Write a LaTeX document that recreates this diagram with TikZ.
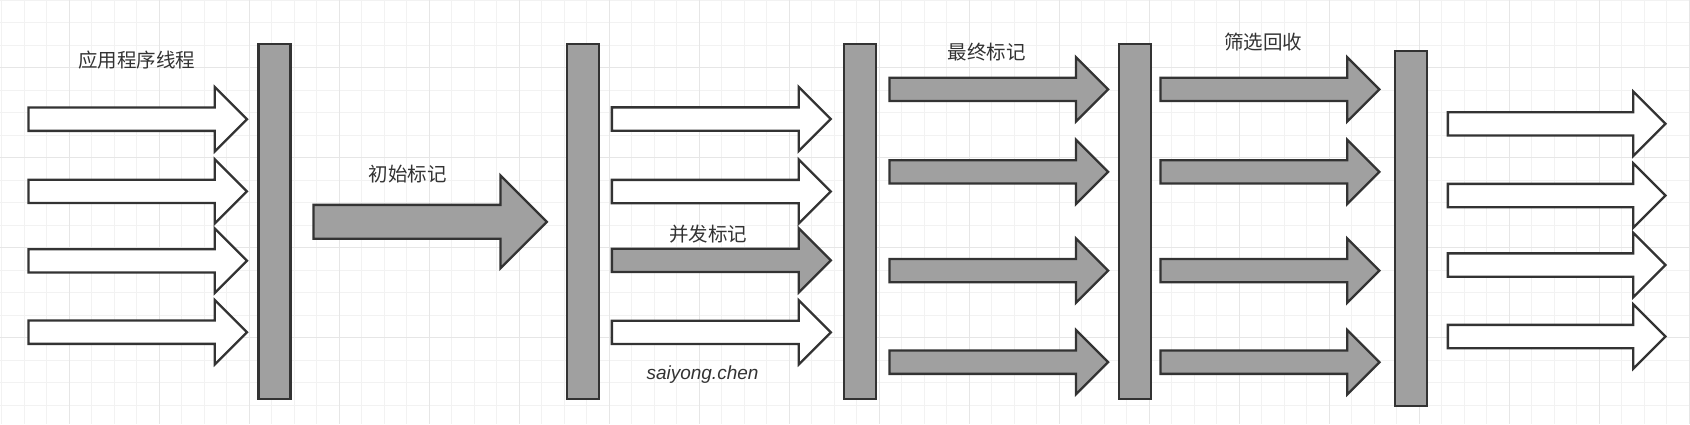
\documentclass[tikz,border=0pt]{standalone}
\usepackage{fontspec}
\setsansfont{Liberation Sans}
\newfontfamily\cjk{Noto Sans CJK SC}
\usepackage{tikz}
\usetikzlibrary{shapes.arrows}
\usetikzlibrary{positioning}
\tikzset{>=latex}

\definecolor{gridminor}{HTML}{F2F2F2}
\definecolor{gridmajor}{HTML}{E6E6E6}
\definecolor{barfill}{HTML}{A0A0A0}
\definecolor{edge}{HTML}{333333}

\tikzset{
  pausebar/.style={rectangle, draw=edge, fill=barfill, line width=2.3pt,
    minimum width=32pt, minimum height=355pt, inner sep=0pt},
  thread/.style={single arrow, draw=edge, fill=white, line width=2.3pt,
    anchor=tail, inner xsep=0pt, inner ysep=10.5pt,
    single arrow head extend=20.5pt, minimum height=218.5pt},
  gcthread/.style={thread, fill=barfill},
  phase/.style={font=\cjk\fontsize{19.5}{22}\selectfont, text=edge, inner sep=0pt}
}

\begin{document}
\begin{tikzpicture}[x=1pt, y=-1pt]
  % --- Definitions ---
  \def\W{1690} % picture width
  \def\H{424}  % picture height

  % --- 1. Paper and grid ---
  \useasboundingbox (0,0) rectangle (\W,\H);
  \fill[white] (0,0) rectangle (\W,\H);
  \foreach \x in {1.5,24,...,\W} \draw[gridminor, line width=1pt] (\x,0) -- (\x,\H);
  \foreach \y in {0.2,22.7,...,\H} \draw[gridminor, line width=1pt] (0,\y) -- (\W,\y);
  \foreach \x in {69,159,...,\W} \draw[gridmajor, line width=1pt] (\x,0) -- (\x,\H);
  \foreach \y in {67.7,157.7,...,\H} \draw[gridmajor, line width=1pt] (0,\y) -- (\W,\y);

  % --- 2. Stop-the-world bars ---
  \node[pausebar] (p1) at (274.5,221.5) {};
  \node[pausebar] (p2) at (583.2,221.6) {};
  \node[pausebar] (p3) at (860.3,221.6) {};
  \node[pausebar] (p4) at (1135.3,221.6) {};
  \node[pausebar] (p5) at (1411.2,228.2) {};

  % --- 3. Application threads (before) ---
  \foreach \y [count=\i] in {119.2,191.4,260.8,332.2}
    \node[thread] (app\i) at (27.3,\y) {};
  \node[phase] (appl) at (136.7,60) {应用程序线程};

  % --- 4. Initial mark ---
  \node[gcthread, inner ysep=15.8pt, single arrow head extend=29.5pt,
        minimum height=233.4pt] (init) at (312.3,221.8) {};
  \node[phase] (initl) at (407.8,174.3) {初始标记};

  % --- 5. Concurrent mark ---
  \foreach \y/\s [count=\i] in {119/thread,191.5/thread,260.3/gcthread,332.3/thread}
    \node[\s, minimum height=219pt] (conc\i) at (610.7,\y) {};
  \node[phase] (concl) at (708,234.3) {并发标记};
  \node[font=\sffamily\itshape\fontsize{19}{22}\selectfont, text=edge, inner sep=0pt]
    (sign) at (702.5,375) {saiyong.chen};

  % --- 6. Final mark ---
  \foreach \y [count=\i] in {89.4,171.9,270.6,362.2}
    \node[gcthread, minimum height=218.7pt] (remark\i) at (888.3,\y) {};
  \node[phase] (remarkl) at (986.7,52.3) {最终标记};

  % --- 7. Live data counting and evacuation ---
  \foreach \y [count=\i] in {89.4,171.9,270.6,362.2}
    \node[gcthread, minimum height=219pt] (clean\i) at (1159.3,\y) {};
  \node[phase] (cleanl) at (1263,41.7) {筛选回收};

  % --- 8. Application threads (after) ---
  \foreach \y [count=\i] in {123.8,195.5,265,336.5}
    \node[thread, minimum height=217.6pt] (resume\i) at (1446.7,\y) {};
\end{tikzpicture}
\end{document}
